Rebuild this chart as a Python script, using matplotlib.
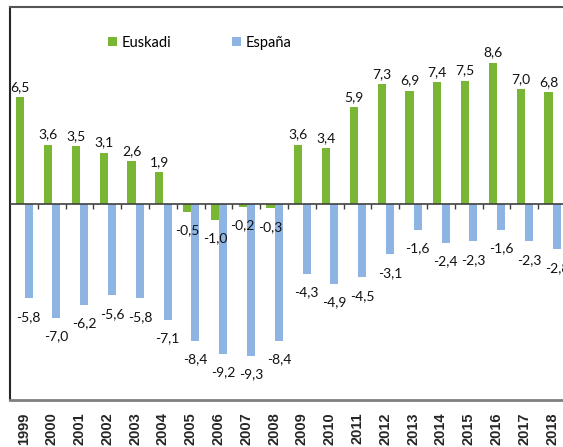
import numpy as np
import matplotlib
matplotlib.use("Agg")
import matplotlib.pyplot as plt

# datos: variacion anual (%)
years = [str(y) for y in range(1999, 2019)]
euskadi = [6.5, 3.6, 3.5, 3.1, 2.6, 1.9, -0.5, -1.0, -0.2, -0.3,
           3.6, 3.4, 5.9, 7.3, 6.9, 7.4, 7.5, 8.6, 7.0, 6.8]
espana = [-5.8, -7.0, -6.2, -5.6, -5.8, -7.1, -8.4, -9.2, -9.3, -8.4,
          -4.3, -4.9, -4.5, -3.1, -1.6, -2.4, -2.3, -1.6, -2.3, -2.8]

green = "#78B633"
blue = "#8DB4E2"
lab_font = ["Lato", "DejaVu Sans"]

fig = plt.figure(figsize=(5.63, 4.47), dpi=100)
ax = fig.add_axes([10 / 563, 1 - 400 / 447, 556 / 563, 393 / 447])

x = np.arange(len(years))
w = 0.29
b1 = ax.bar(x - 0.13, euskadi, w, color=green, label="Euskadi", zorder=2)
b2 = ax.bar(x + 0.17, espana, w, color=blue, label="España", zorder=2)

# etiquetas de valores
for bars, vals in ((b1, euskadi), (b2, espana)):
    for rect, v in zip(bars, vals):
        cx = rect.get_x() + rect.get_width() / 2
        txt = f"{v:.1f}".replace(".", ",")
        if v >= 0:
            ax.annotate(txt, (cx, v), xytext=(0, 3), textcoords="offset points",
                        ha="center", va="bottom", fontsize=10, family=lab_font,
                        color="#111111")
        else:
            ax.annotate(txt, (cx, v), xytext=(0, -9), textcoords="offset points",
                        ha="center", va="top", fontsize=10, family=lab_font,
                        color="#111111")

ax.set_xlim(-0.5, len(years) - 0.5)
ax.set_ylim(-12, 12)

# eje de categorias en cero
ax.axhline(0, color="#404040", lw=1.2, zorder=3)
ax.vlines(x[:-1] + 0.5, -0.35, 0, color="#404040", lw=1, zorder=3)

ax.set_yticks([])
ax.set_xticks(x)
ax.set_xticklabels(years, rotation=90, fontsize=10.5, fontweight="bold",
                   family="Liberation Sans", color="#262626")
ax.tick_params(axis="x", length=0, pad=9)

ax.spines["left"].set_color("#262626")
ax.spines["left"].set_linewidth(1.5)
ax.spines["top"].set_color("#555555")
ax.spines["top"].set_linewidth(1.5)
ax.spines["bottom"].set_color("#7f7f7f")
ax.spines["bottom"].set_linewidth(2)
ax.spines["right"].set_visible(False)

fig.legend(handles=[b1, b2], loc="center left",
           bbox_to_anchor=(101 / 563, 1 - 43 / 447), ncol=2, frameon=False,
           borderpad=0, handlelength=0.6, handleheight=0.6, handletextpad=0.3,
           columnspacing=4.2, prop={"family": lab_font, "size": 10.5})

fig.savefig("out.png", dpi=100)
